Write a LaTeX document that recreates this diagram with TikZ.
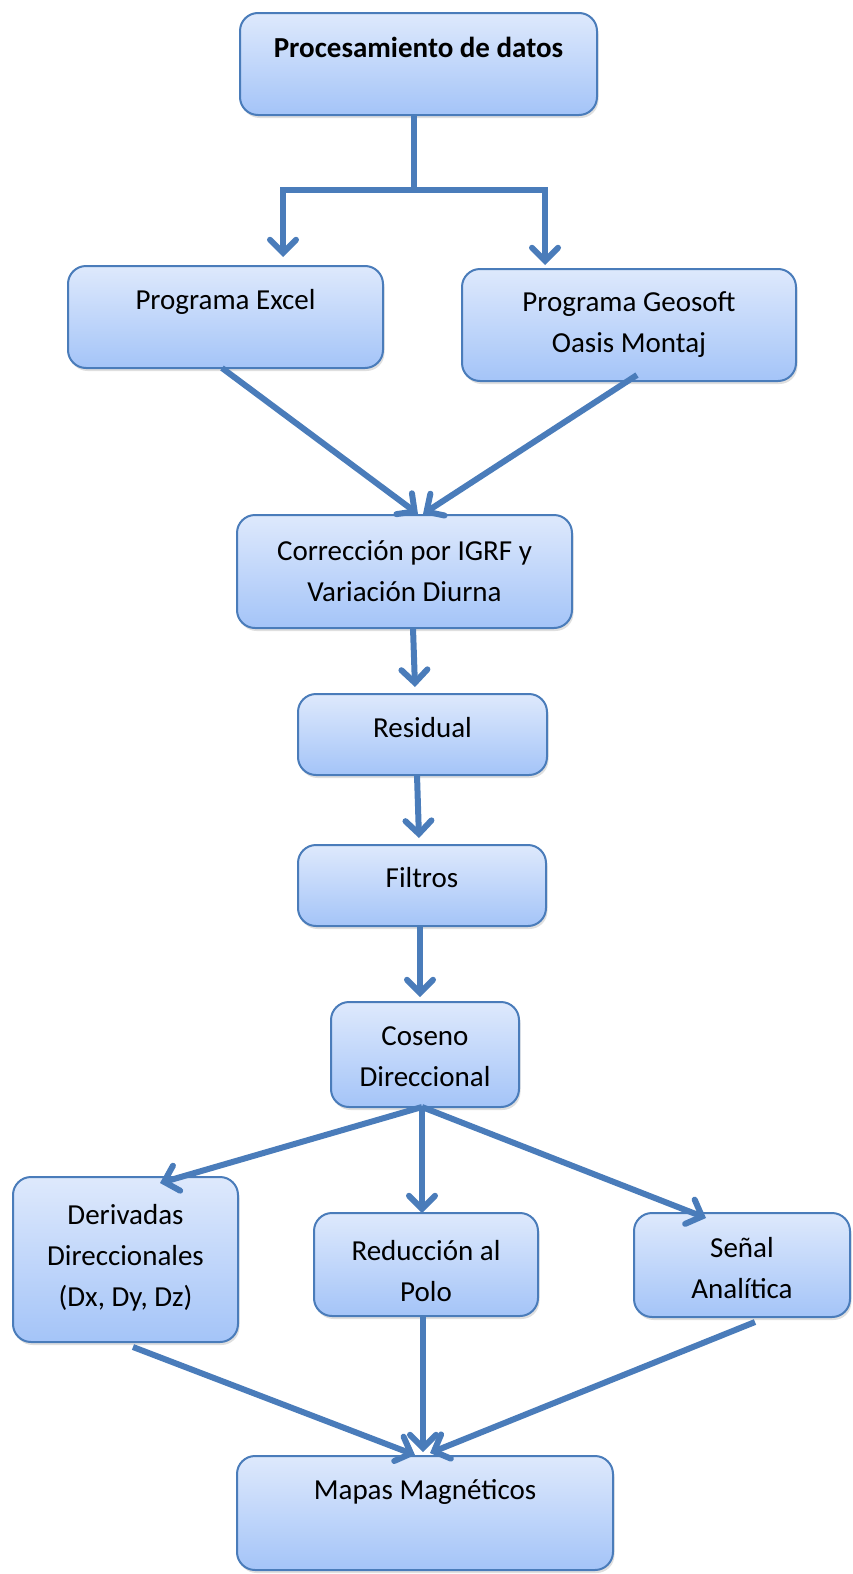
\documentclass[tikz,border=0pt]{standalone}
\usepackage{fontspec}
\setmainfont{Carlito}
\usepackage{tikz}
\usetikzlibrary{arrows.meta, shadows}

\definecolor{edgeblue}{RGB}{74,124,186}
\definecolor{boxtop}{RGB}{222,233,252}
\definecolor{boxbot}{RGB}{164,196,248}

\tikzset{
  blk/.style={draw=edgeblue, line width=2pt, rounded corners=18pt, inner sep=0pt, outer sep=0pt,
    top color=boxtop, bottom color=boxbot,
    drop shadow={shadow xshift=1.5pt, shadow yshift=-3pt, opacity=0.25}},
  lbl/.style={align=center, inner sep=0pt, font=\fontsize{29}{41}\selectfont},
  arr/.style={draw=edgeblue, line width=6pt, -{Straight Barb[length=13pt, width=26pt, line cap=round]}}
}

\begin{document}
\begin{tikzpicture}[x=1pt, y=-1pt]

\useasboundingbox (0,0) rectangle (852,1574);

\node[blk, minimum width=357pt, minimum height=102pt] (top) at (418.5, 64) {};
\node[blk, minimum width=315pt, minimum height=102pt] (excel) at (225.5, 317) {};
\node[blk, minimum width=334pt, minimum height=112pt] (geo) at (629, 325) {};
\node[blk, minimum width=335pt, minimum height=113pt] (corr) at (404.5, 571.5) {};
\node[blk, minimum width=249pt, minimum height=81pt] (resid) at (422.5, 734.5) {};
\node[blk, minimum width=248pt, minimum height=81pt] (filt) at (422, 885.5) {};
\node[blk, minimum width=188pt, minimum height=105pt] (cos) at (425, 1054.5) {};
\node[blk, minimum width=225pt, minimum height=165pt] (deriv) at (125.5, 1259.5) {};
\node[blk, minimum width=224pt, minimum height=103pt] (red) at (426, 1264.5) {};
\node[blk, minimum width=216pt, minimum height=104pt] (senal) at (742, 1265) {};
\node[blk, minimum width=376pt, minimum height=114pt] (mapas) at (425, 1513) {};

\node[lbl, font=\fontsize{29}{41}\selectfont\bfseries] (top-t) at (418.5, 47) {Procesamiento de datos};
\node[lbl] (excel-t) at (225.5, 302) {Programa Excel};
\node[lbl] (geo-t) at (629, 325) {Programa Geosoft\\Oasis Montaj};
\node[lbl] (corr-t) at (404.5, 571) {Corrección por IGRF y\\Variación Diurna};
\node[lbl] (resid-t) at (422.5, 728) {Residual};
\node[lbl] (filt-t) at (422, 878) {Filtros};
\node[lbl] (cos-t) at (425, 1057) {Coseno\\Direccional};
\node[lbl] (deriv-t) at (125.5, 1258) {Derivadas\\Direccionales\\(Dx, Dy, Dz)};
\node[lbl] (red-t) at (426, 1271) {Reducción al\\Polo};
\node[lbl] (senal-t) at (742, 1268) {Señal\\Analítica};
\node[lbl] (mapas-t) at (425, 1492) {Mapas Magnéticos};

\draw[arr] ([xshift=-5]top.south) -- ++(0,75) -| ([xshift=57.5, yshift=9]excel.north);
\draw[arr] ([xshift=-5]top.south) -- ++(0,75) -| ([xshift=-84, yshift=4]geo.north);

\draw[arr] ([xshift=-3.5]excel.south) -- ([xshift=13.5, yshift=1]corr.north);
\draw[arr] ([xshift=8, yshift=6]geo.south) -- ([xshift=18.5, yshift=1]corr.north);

\draw[arr] ([xshift=8.5]corr.south) -- ([xshift=-7.5, yshift=7]resid.north);
\draw[arr] ([xshift=-5.5]resid.south) -- ([xshift=-3, yshift=7]filt.north);
\draw[arr] ([xshift=-2]filt.south) -- ([xshift=-5, yshift=5]cos.north);

\draw[arr] ([xshift=-3]cos.south) -- ([xshift=34.5, yshift=-6]deriv.north);
\draw[arr] ([xshift=-3]cos.south) -- ([xshift=-4]red.north);
\draw[arr] ([xshift=-3]cos.south) -- ([xshift=-36, yshift=-5]senal.north);

\draw[arr] ([xshift=7.5, yshift=-5]deriv.south) -- ([xshift=-10, yshift=1]mapas.north);
\draw[arr] ([xshift=-3]red.south) -- ([xshift=-2, yshift=4]mapas.north);
\draw[arr] ([xshift=13, yshift=-5]senal.south) -- ([xshift=5, yshift=3]mapas.north);

\end{tikzpicture}
\end{document}
